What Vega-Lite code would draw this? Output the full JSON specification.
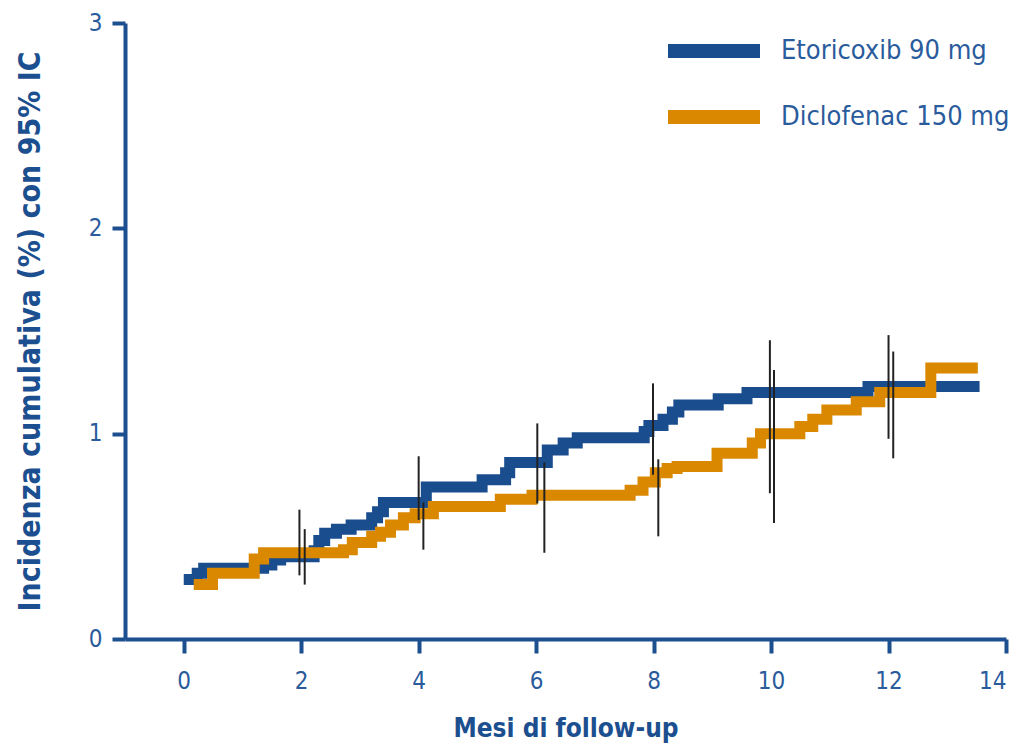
{
  "$schema": "https://vega.github.io/schema/vega-lite/v6.json",
  "width": 881,
  "height": 616,
  "autosize": {"type": "none"},
  "padding": {"left": 125, "top": 23, "right": 25, "bottom": 106},
  "background": "white",
  "config": {
    "view": {"stroke": null},
    "font": "DejaVu Sans Condensed, sans-serif"
  },
  "datasets": {
    "steps": [
      {"series": "Etoricoxib 90 mg", "mese": 0, "inc": 0.29},
      {"series": "Etoricoxib 90 mg", "mese": 0.23, "inc": 0.32},
      {"series": "Etoricoxib 90 mg", "mese": 0.34, "inc": 0.345},
      {"series": "Etoricoxib 90 mg", "mese": 1.36, "inc": 0.36},
      {"series": "Etoricoxib 90 mg", "mese": 1.5, "inc": 0.385},
      {"series": "Etoricoxib 90 mg", "mese": 1.65, "inc": 0.4},
      {"series": "Etoricoxib 90 mg", "mese": 2.22, "inc": 0.43},
      {"series": "Etoricoxib 90 mg", "mese": 2.3, "inc": 0.48},
      {"series": "Etoricoxib 90 mg", "mese": 2.4, "inc": 0.515},
      {"series": "Etoricoxib 90 mg", "mese": 2.6, "inc": 0.535},
      {"series": "Etoricoxib 90 mg", "mese": 2.85, "inc": 0.555},
      {"series": "Etoricoxib 90 mg", "mese": 3.2, "inc": 0.59},
      {"series": "Etoricoxib 90 mg", "mese": 3.3, "inc": 0.62},
      {"series": "Etoricoxib 90 mg", "mese": 3.4, "inc": 0.665},
      {"series": "Etoricoxib 90 mg", "mese": 4.13, "inc": 0.74},
      {"series": "Etoricoxib 90 mg", "mese": 5.08, "inc": 0.775},
      {"series": "Etoricoxib 90 mg", "mese": 5.48, "inc": 0.81},
      {"series": "Etoricoxib 90 mg", "mese": 5.55, "inc": 0.86},
      {"series": "Etoricoxib 90 mg", "mese": 6.19, "inc": 0.92},
      {"series": "Etoricoxib 90 mg", "mese": 6.46, "inc": 0.955},
      {"series": "Etoricoxib 90 mg", "mese": 6.7, "inc": 0.98},
      {"series": "Etoricoxib 90 mg", "mese": 7.84, "inc": 1.01},
      {"series": "Etoricoxib 90 mg", "mese": 7.92, "inc": 1.04},
      {"series": "Etoricoxib 90 mg", "mese": 8.16, "inc": 1.07},
      {"series": "Etoricoxib 90 mg", "mese": 8.32, "inc": 1.105},
      {"series": "Etoricoxib 90 mg", "mese": 8.43, "inc": 1.14},
      {"series": "Etoricoxib 90 mg", "mese": 9.1, "inc": 1.17},
      {"series": "Etoricoxib 90 mg", "mese": 9.59, "inc": 1.2},
      {"series": "Etoricoxib 90 mg", "mese": 11.65, "inc": 1.23},
      {"series": "Etoricoxib 90 mg", "mese": 13.55, "inc": 1.23},
      {"series": "Diclofenac 150 mg", "mese": 0.17, "inc": 0.265},
      {"series": "Diclofenac 150 mg", "mese": 0.49, "inc": 0.32},
      {"series": "Diclofenac 150 mg", "mese": 1.2, "inc": 0.39},
      {"series": "Diclofenac 150 mg", "mese": 1.36, "inc": 0.42},
      {"series": "Diclofenac 150 mg", "mese": 2.72, "inc": 0.435},
      {"series": "Diclofenac 150 mg", "mese": 2.87, "inc": 0.47},
      {"series": "Diclofenac 150 mg", "mese": 3.2, "inc": 0.5},
      {"series": "Diclofenac 150 mg", "mese": 3.35, "inc": 0.52},
      {"series": "Diclofenac 150 mg", "mese": 3.52, "inc": 0.555},
      {"series": "Diclofenac 150 mg", "mese": 3.74, "inc": 0.59},
      {"series": "Diclofenac 150 mg", "mese": 3.94, "inc": 0.61},
      {"series": "Diclofenac 150 mg", "mese": 4.25, "inc": 0.645},
      {"series": "Diclofenac 150 mg", "mese": 5.39, "inc": 0.68},
      {"series": "Diclofenac 150 mg", "mese": 5.93, "inc": 0.7},
      {"series": "Diclofenac 150 mg", "mese": 7.6, "inc": 0.725},
      {"series": "Diclofenac 150 mg", "mese": 7.82, "inc": 0.765},
      {"series": "Diclofenac 150 mg", "mese": 8.03, "inc": 0.81},
      {"series": "Diclofenac 150 mg", "mese": 8.23, "inc": 0.83},
      {"series": "Diclofenac 150 mg", "mese": 8.4, "inc": 0.84},
      {"series": "Diclofenac 150 mg", "mese": 9.08, "inc": 0.905},
      {"series": "Diclofenac 150 mg", "mese": 9.68, "inc": 0.955},
      {"series": "Diclofenac 150 mg", "mese": 9.82, "inc": 1.0},
      {"series": "Diclofenac 150 mg", "mese": 10.49, "inc": 1.035},
      {"series": "Diclofenac 150 mg", "mese": 10.71, "inc": 1.07},
      {"series": "Diclofenac 150 mg", "mese": 10.95, "inc": 1.115},
      {"series": "Diclofenac 150 mg", "mese": 11.45, "inc": 1.155},
      {"series": "Diclofenac 150 mg", "mese": 11.85, "inc": 1.2},
      {"series": "Diclofenac 150 mg", "mese": 12.72, "inc": 1.32},
      {"series": "Diclofenac 150 mg", "mese": 13.52, "inc": 1.32}
    ],
    "ci": [
      {"series": "Etoricoxib 90 mg", "mese": 1.97, "lo": 0.31, "hi": 0.63},
      {"series": "Etoricoxib 90 mg", "mese": 4.0, "lo": 0.58, "hi": 0.89},
      {"series": "Etoricoxib 90 mg", "mese": 6.02, "lo": 0.66, "hi": 1.05},
      {"series": "Etoricoxib 90 mg", "mese": 7.99, "lo": 0.8, "hi": 1.245},
      {"series": "Etoricoxib 90 mg", "mese": 9.98, "lo": 0.71, "hi": 1.455},
      {"series": "Etoricoxib 90 mg", "mese": 12.0, "lo": 0.975, "hi": 1.48},
      {"series": "Diclofenac 150 mg", "mese": 2.06, "lo": 0.265, "hi": 0.535},
      {"series": "Diclofenac 150 mg", "mese": 4.08, "lo": 0.435, "hi": 0.665},
      {"series": "Diclofenac 150 mg", "mese": 6.14, "lo": 0.42, "hi": 0.86},
      {"series": "Diclofenac 150 mg", "mese": 8.08, "lo": 0.5, "hi": 0.875},
      {"series": "Diclofenac 150 mg", "mese": 10.05, "lo": 0.565, "hi": 1.31},
      {"series": "Diclofenac 150 mg", "mese": 12.08, "lo": 0.88, "hi": 1.4}
    ]
  },
  "layer": [
    {
      "data": {"name": "steps"},
      "mark": {"type": "line", "interpolate": "step-after", "strokeWidth": 11, "strokeCap": "butt", "strokeJoin": "miter"},
      "encoding": {
        "x": {
          "field": "mese", "type": "quantitative",
          "scale": {"domain": [-1, 14], "nice": false, "zero": false},
          "axis": {
            "title": "Mesi di follow-up",
            "values": [0, 2, 4, 6, 8, 10, 12, 14],
            "format": "d",
            "grid": false,
            "domainColor": "#1c4f8f", "domainWidth": 4,
            "tickColor": "#1c4f8f", "tickWidth": 4, "tickSize": 14,
            "labelFontSize": 24, "labelColor": "#2a5b9c", "labelPadding": 16,
            "titleFontSize": 26, "titleFontWeight": "bold", "titleColor": "#1c4f8f", "titlePadding": 22
          }
        },
        "y": {
          "field": "inc", "type": "quantitative",
          "scale": {"domain": [0, 3], "nice": false},
          "axis": {
            "title": "Incidenza cumulativa (%) con 95% IC",
            "values": [0, 1, 2, 3],
            "format": "d",
            "grid": false,
            "domainColor": "#1c4f8f", "domainWidth": 4,
            "tickColor": "#1c4f8f", "tickWidth": 4, "tickSize": 13,
            "labelFontSize": 24, "labelColor": "#2a5b9c", "labelPadding": 10,
            "titleFontSize": 30, "titleFontWeight": "bold", "titleColor": "#1c4f8f", "titlePadding": 43
          }
        },
        "color": {
          "field": "series", "type": "nominal",
          "scale": {"domain": ["Etoricoxib 90 mg", "Diclofenac 150 mg"], "range": ["#1a4d8e", "#d98800"]},
          "legend": {
            "title": null,
            "orient": "none",
            "legendX": 562,
            "legendY": 1,
            "symbolType": "M-2.3,0H2.3",
            "symbolSize": 1600,
            "symbolStrokeWidth": 14,
            "symbolFillColor": "transparent",
            "labelFontSize": 27,
            "labelColor": "#2a5b9c",
            "labelOffset": 40,
            "labelLimit": 0,
            "rowPadding": 10
          }
        },
        "order": {"field": "mese", "type": "quantitative"}
      }
    },
    {
      "data": {"name": "ci"},
      "mark": {"type": "rule", "color": "#222222", "strokeWidth": 2},
      "encoding": {
        "x": {"field": "mese", "type": "quantitative"},
        "y": {"field": "lo", "type": "quantitative"},
        "y2": {"field": "hi"},
        "detail": {"field": "series"}
      }
    }
  ]
}
